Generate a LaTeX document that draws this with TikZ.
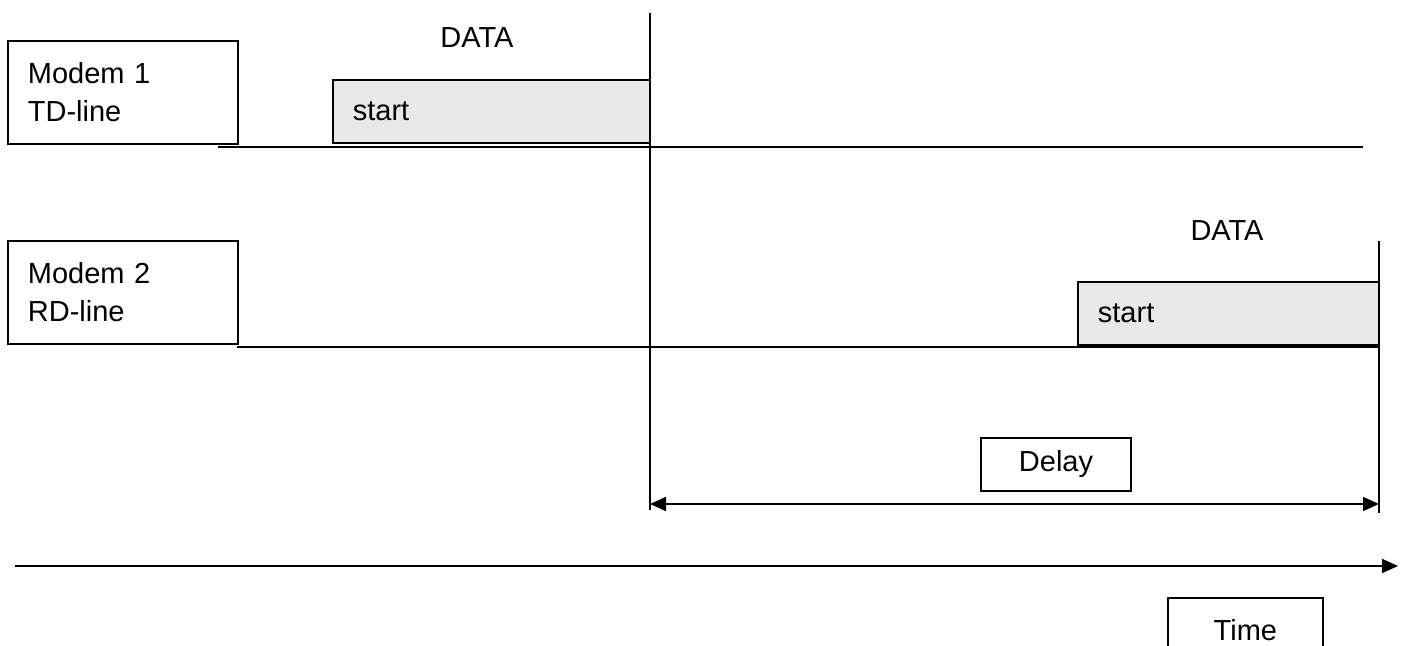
\documentclass[tikz,border=0pt]{standalone}
\usepackage{fontspec}
\setmainfont{Liberation Sans}
\usetikzlibrary{arrows.meta}

\begin{document}
\begin{tikzpicture}[x=0.5pt,y=-0.5pt,>={Triangle[length=8pt,width=7pt]},line width=0.9pt,
        font=\fontsize{14.5}{19}\selectfont,
        line box/.style={draw,anchor=north west,align=left,text width=95pt,minimum height=51.5pt,inner xsep=10pt},
        data box/.style={draw,fill=gray!18,anchor=north west,align=left,minimum height=31.5pt,inner xsep=10pt,inner ysep=0pt},
        tag box/.style={draw,minimum width=75pt,minimum height=26.5pt}]
        \clip (0,0) rectangle (1406,646);

        \node[line box] (modem1) at (7,40) {Modem 1\\TD-line};
        \node[line box] (modem2) at (7,240) {Modem 2\\RD-line};

        \node[data box,text width=138.5pt] (sent) at (332,79) {start};
        \node[data box,text width=130.5pt] (received) at (1077,281) {start};
        \node[anchor=base] (sentlabel) at (477,48) {DATA};
        \node[anchor=base] (receivedlabel) at (1227,241) {DATA};

        \coordinate (td start) at (218,147);
        \coordinate (td end) at (1363,147);
        \coordinate (rd start) at (237,347);
        \coordinate (rd end) at (1379,347);
        \draw (td start) -- (td end);
        \draw (rd start) -- (rd end);

        \coordinate (send top) at (650,13);
        \coordinate (send foot) at (650,510);
        \coordinate (recv top) at (1379,241);
        \coordinate (recv foot) at (1379,513);
        \draw (send top) -- (send foot);
        \draw (recv top) -- (recv foot);

        \node[tag box] (delay) at (1056,464.5) {Delay};
        \coordinate (delay left) at (650,504);
        \coordinate (delay right) at (1379,504);
        \draw[<->] (delay left) -- (delay right);

        \coordinate (axis start) at (15,566);
        \coordinate (axis end) at (1398,566);
        \draw[->] (axis start) -- (axis end);
        \node[tag box,anchor=north west,minimum width=77.5pt,minimum height=32pt] (time) at (1167,597) {Time};
    \end{tikzpicture}
\end{document}
